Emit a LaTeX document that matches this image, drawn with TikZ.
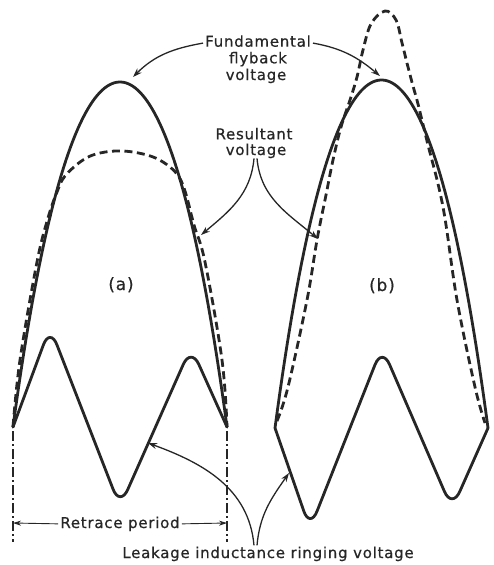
\documentclass[tikz,border=0pt]{standalone}
\usepackage{fontspec}
\setmainfont{DejaVu Sans}[LetterSpace=5,FakeBold=0.6]
\usetikzlibrary{arrows.meta}
\begin{document}
\begin{tikzpicture}[x=1pt,y=-1pt,
  ink/.style={color=black!85},
  wave/.style={ink, line width=2.8pt, line join=round, line cap=round},
  resw/.style={ink, line width=2.8pt, dash pattern=on 8pt off 4.5pt},
  ptr/.style={ink, line width=1.3pt, -{Stealth[length=9pt,width=6pt]}},
  lbl/.style={ink, font=\fontsize{15}{16}\selectfont, inner sep=0pt, anchor=base},
  biglbl/.style={lbl, font=\fontsize{17}{18}\selectfont},
  guide/.style={ink, line width=1.1pt, dash pattern=on 10pt off 3pt on 2pt off 3pt}
]
\useasboundingbox (0,0) rectangle (493,565);

% ---------- (a) ----------
\draw[wave] plot[domain=13:227, samples=90]
  (\x, {82+345*(0.85*((\x-120)/107)*((\x-120)/107)+0.15*((\x-120)/107)*((\x-120)/107)*((\x-120)/107)*((\x-120)/107))});
\draw[resw] plot[smooth, tension=0.6] coordinates {
  (13,427) (20,360) (37,262) (48,218) (57,192) (65,176) (83,160) (100,153)
  (123,151) (147,155) (163,162) (177,174) (185,191) (194,225) (205,262)
  (222,360) (227,427)};
\draw[wave, rounded corners=19pt] (13,427) -- (50,327) -- (120,507) -- (191,347) -- (227,427);

% ---------- (b) ----------
\draw[wave] plot[domain=275:488, samples=90]
  (\x, {80+348*(0.85*((\x-381.5)/106.5)*((\x-381.5)/106.5)+0.15*((\x-381.5)/106.5)*((\x-381.5)/106.5)*((\x-381.5)/106.5)*((\x-381.5)/106.5))});
\draw[resw] plot[smooth, tension=0.6] coordinates {
  (277,421) (288,387) (307,300) (317,240) (326,195) (333,160) (341,127)
  (350,100) (357,77) (363,50) (371,24) (385,11) (396,20) (402,43) (408,67)
  (413,86) (418,104) (427,141) (443,207) (457,300) (475,387) (485,423)};
\draw[wave, rounded corners=19pt] (275,428) -- (310,529) -- (382,347) -- (452,509) -- (488,428);

% ---------- guides ----------
\coordinate (gl1) at (13,431);
\coordinate (gl2) at (13,542);
\coordinate (gr1) at (227,431);
\coordinate (gr2) at (227,542);
\draw[guide] (gl1) -- (gl2);
\draw[guide] (gr1) -- (gr2);

% ---------- labels ----------
\node[lbl] (fund1) at (258,46.7) {Fundamental};
\node[lbl] (fund2) at (258,63.3) {flyback};
\node[lbl] (fund3) at (256,80) {voltage};
\node[lbl] (res1) at (254,139.3) {Resultant};
\node[lbl] (res2) at (256,155) {voltage};
\node[biglbl] (la) at (121,290) {(a)};
\node[biglbl] (lb) at (382,291) {(b)};
\node[lbl] (retr) at (120,528) {Retrace period};
\node[lbl] (leak) at (268,558) {Leakage inductance ringing voltage};

% ---------- arrows ----------
\coordinate (ta) at (133,77);
\coordinate (tb) at (380,76);
\draw[ptr] ([xshift=-2pt,yshift=-2pt]fund1.west) to[out=190, in=45] (ta);
\draw[ptr] ([xshift=2pt,yshift=-2pt]fund1.east) to[out=-10, in=140] (tb);

\coordinate (ra) at (201,235);
\coordinate (rb) at (318,239);
\draw[ptr] ([xshift=-2pt]res2.south) to[out=-95, in=40] (ra);
\draw[ptr] ([xshift=1pt]res2.south) to[out=-85, in=140] (rb);

\coordinate (lka) at (148,443);
\coordinate (lkb) at (289,473);
\draw[ptr] ([xshift=-14pt,yshift=1pt]leak.north) to[out=95, in=-20] (lka);
\draw[ptr] ([xshift=-11pt,yshift=1pt]leak.north) to[out=85, in=-125] (lkb);

\coordinate (rl) at (13,523);
\coordinate (rr) at (227,523);
\draw[ptr, line width=0.9pt, -{Stealth[length=8pt,width=5pt]}] ([xshift=-2pt]retr.west) -- (rl);
\draw[ptr, line width=0.9pt, -{Stealth[length=8pt,width=5pt]}] ([xshift=2pt]retr.east) -- (rr);
\end{tikzpicture}
\end{document}
